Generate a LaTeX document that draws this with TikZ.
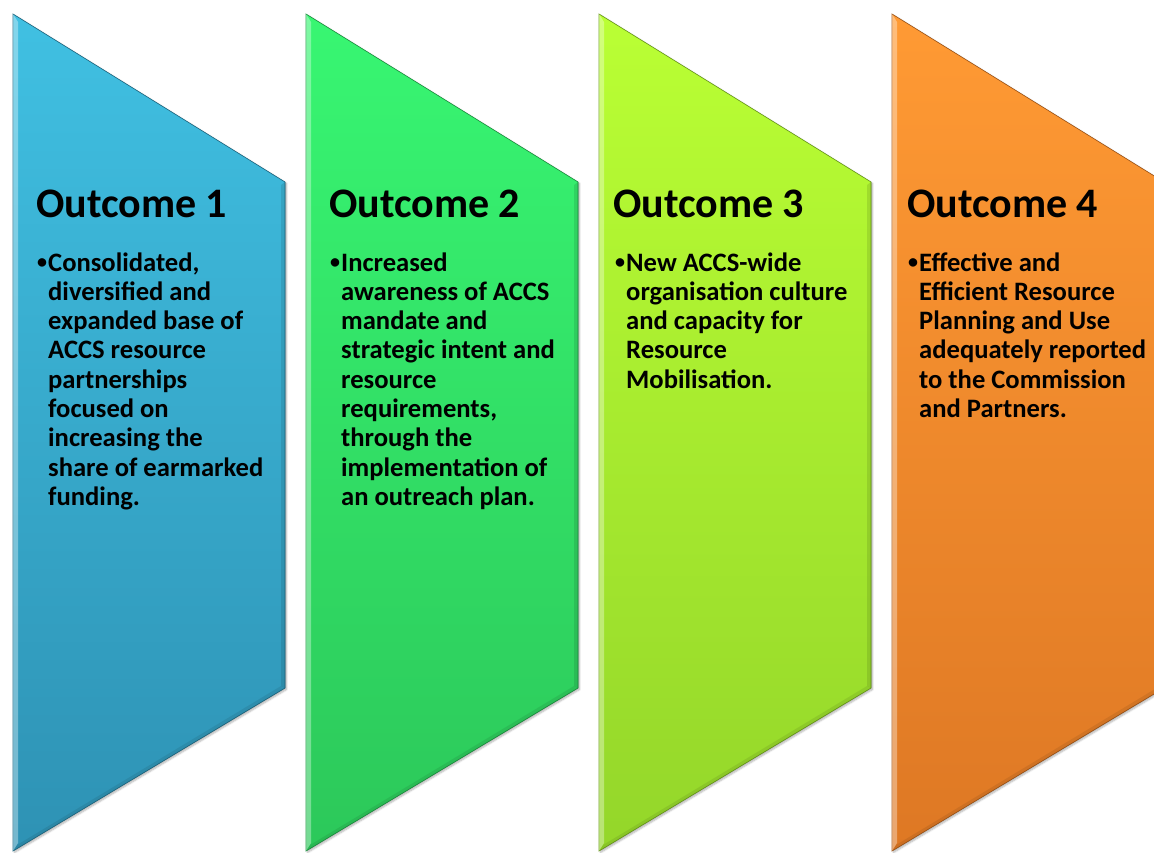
\documentclass[tikz,border=0pt]{standalone}
\usepackage{fontspec}
\newfontfamily\outfont{Carlito}
\usetikzlibrary{shadows.blur}

\definecolor{blueTop}{RGB}{64,192,226}
\definecolor{blueBot}{RGB}{46,146,180}
\definecolor{greenTop}{RGB}{56,246,114}
\definecolor{greenBot}{RGB}{44,200,90}
\definecolor{limeTop}{RGB}{186,255,52}
\definecolor{limeBot}{RGB}{148,214,42}
\definecolor{orangeTop}{RGB}{255,154,52}
\definecolor{orangeBot}{RGB}{222,120,36}

\tikzset{
  panel/.style={line width=0.6pt, line join=miter,
    blur shadow={shadow xshift=1.5pt, shadow yshift=-1.5pt, shadow blur steps=6, shadow opacity=30}},
  title/.style={anchor=base west, inner sep=0pt, font=\outfont\bfseries\fontsize{42}{48}\selectfont},
  bodytext/.style={anchor=base west, inner sep=0pt, align=left,
    font=\outfont\bfseries\fontsize{26.6}{29.3}\selectfont},
  bulletmark/.style={anchor=base west, inner sep=0pt, font=\outfont\bfseries\fontsize{20}{24}\selectfont}
}

% chevron panel: #1 left x, #2 top colour, #3 bottom colour
\newcommand\outpanel[3]{%
  \fill[panel, top color=#2, bottom color=#3, draw=#3!75!black]
    (#1,14) -- (#1+272,182) -- (#1+272,688) -- (#1,851) -- cycle;
  % light bevel along the left edge
  \fill[white, opacity=0.35] (#1,14) -- (#1+5,22) -- (#1+5,843) -- (#1,851) -- cycle;
  % darker bevel along the right edge and the diagonals
  \fill[black, opacity=0.10] (#1+272,182) -- (#1+272,688) -- (#1+268,686) -- (#1+268,185) -- cycle;
  \fill[black, opacity=0.08] (#1,851) -- (#1+272,688) -- (#1+268,686) -- (#1+4,845) -- cycle;
}

\begin{document}
\begin{tikzpicture}[x=1pt, y=-1pt]
  \useasboundingbox (0,0) rectangle (1154,852);
  \clip (0,0) rectangle (1154,852);

  \outpanel{13}{blueTop}{blueBot}
  \outpanel{306}{greenTop}{greenBot}
  \outpanel{599}{limeTop}{limeBot}
  \outpanel{892}{orangeTop}{orangeBot}

  % Outcome 1 (body placed by the baseline of its last line)
  \node[title] (t1) at (36,217) {Outcome 1};
  \node[bulletmark] (b1) at (37,268) {\textbullet};
  \node[bodytext] (d1) at (48,505.4) {Consolidated,\\diversified and\\expanded base of\\ACCS resource\\partnerships\\focused on\\increasing the\\share of earmarked\\funding.};

  % Outcome 2
  \node[title] (t2) at (329,217) {Outcome 2};
  \node[bulletmark] (b2) at (330,268) {\textbullet};
  \node[bodytext] (d2) at (341,505.4) {Increased\\awareness of ACCS\\mandate and\\strategic intent and\\resource\\requirements,\\through the\\implementation of\\an outreach plan.};

  % Outcome 3
  \node[title] (t3) at (613,217) {Outcome 3};
  \node[bulletmark] (b3) at (615,268) {\textbullet};
  \node[bodytext] (d3) at (626,388.2) {New ACCS-wide\\organisation culture\\and capacity for\\Resource\\Mobilisation.};

  % Outcome 4
  \node[title] (t4) at (907,217) {Outcome 4};
  \node[bulletmark] (b4) at (908,268) {\textbullet};
  \node[bodytext] (d4) at (919,417.5) {Effective and\\Efficient Resource\\Planning and Use\\adequately reported\\to the Commission\\and Partners.};
\end{tikzpicture}
\end{document}
